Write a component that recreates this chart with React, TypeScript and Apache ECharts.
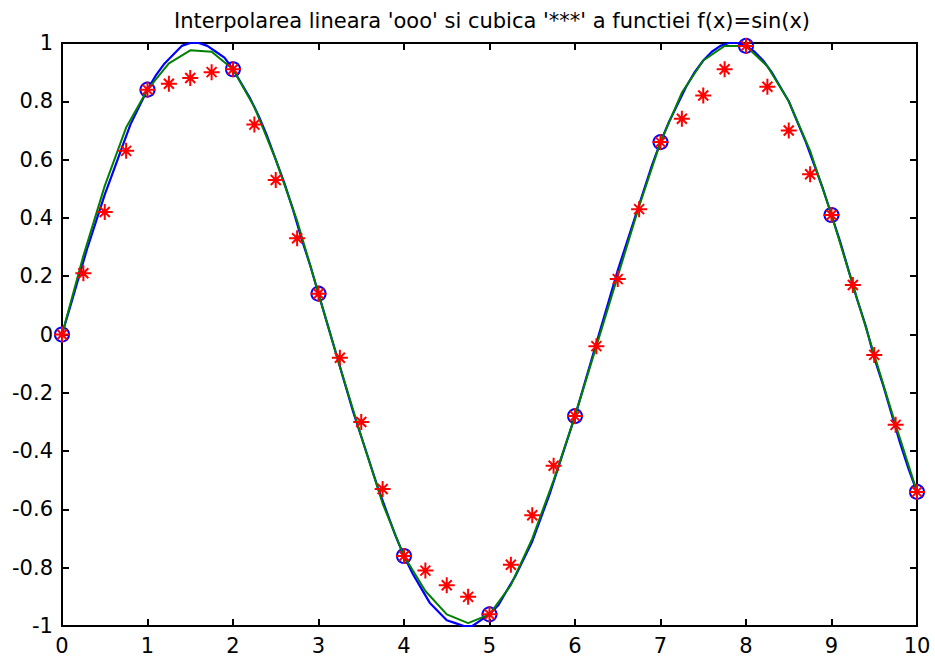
import React, { useEffect, useRef } from "react";
import * as echarts from "echarts";

const titleText = "Interpolarea lineara 'ooo' si cubica '***' a functiei f(x)=sin(x)";

// fine sampled sin(x), step 0.1 from 0 to 10
const fineStep = 0.1;
const fineY = [
  0.0, 0.1, 0.2, 0.3, 0.39, 0.48, 0.56, 0.64, 0.72, 0.78,
  0.84, 0.89, 0.93, 0.96, 0.99, 1.0, 1.0, 0.99, 0.97, 0.95,
  0.91, 0.86, 0.81, 0.75, 0.68, 0.6, 0.52, 0.43, 0.33, 0.24,
  0.14, 0.04, -0.06, -0.16, -0.26, -0.35, -0.44, -0.53, -0.61, -0.69,
  -0.76, -0.82, -0.87, -0.92, -0.95, -0.98, -0.99, -1.0, -1.0, -0.98,
  -0.96, -0.93, -0.88, -0.83, -0.77, -0.71, -0.63, -0.55, -0.46, -0.37,
  -0.28, -0.18, -0.08, 0.02, 0.12, 0.22, 0.31, 0.4, 0.49, 0.58,
  0.66, 0.73, 0.79, 0.85, 0.9, 0.94, 0.97, 0.99, 1.0, 1.0,
  0.99, 0.97, 0.94, 0.9, 0.85, 0.8, 0.73, 0.66, 0.58, 0.5,
  0.41, 0.32, 0.22, 0.12, 0.03, -0.08, -0.17, -0.27, -0.37, -0.46,
  -0.54,
];

// nodes (integer x)
const nodeX = [0, 1, 2, 3, 4, 5, 6, 7, 8, 9, 10];
const nodeY = [0, 0.84, 0.91, 0.14, -0.76, -0.96, -0.28, 0.66, 0.99, 0.41, -0.54];

// interpolated points, step 0.25
const interpStep = 0.25;
const linearY = [
  0, 0.21, 0.42, 0.63, 0.84, 0.86, 0.88, 0.9, 0.91,
  0.72, 0.53, 0.33, 0.14, -0.08, -0.3, -0.53, -0.76,
  -0.81, -0.86, -0.9, -0.96, -0.79, -0.62, -0.45, -0.28,
  -0.04, 0.19, 0.43, 0.66, 0.74, 0.82, 0.91, 0.99,
  0.85, 0.7, 0.55, 0.41, 0.17, -0.07, -0.31, -0.54,
];
const cubicY = [
  0, 0.27, 0.51, 0.71, 0.84, 0.93, 0.975, 0.97, 0.91,
  0.78, 0.6, 0.39, 0.14, -0.11, -0.35, -0.58, -0.76,
  -0.88, -0.96, -0.99, -0.96, -0.86, -0.7, -0.5, -0.28,
  -0.04, 0.2, 0.44, 0.66, 0.83, 0.94, 0.99, 0.99,
  0.92, 0.8, 0.63, 0.41, 0.17, -0.07, -0.31, -0.54,
];

const xTicks = { min: 0, max: 10, interval: 1 };
const yTicks = { min: -1, max: 1, interval: 0.2 };

const STAR = "path://M0,-8L0,8M-8,0L8,0M-5,-5L5,5M-5,5L5,-5";
const FONT = "'DejaVu Sans', 'Liberation Sans', Arial, sans-serif";

export default function App() {
  const ref = useRef<HTMLDivElement>(null);
  useEffect(() => {
    if (!ref.current) return;
    const chart = echarts.init(ref.current, undefined, { renderer: "svg" });
    const fine = fineY.map((y, i) => [+(i * fineStep).toFixed(2), y]);
    const lin = linearY.map((y, i) => [i * interpStep, y]);
    const cub = cubicY.map((y, i) => [i * interpStep, y]);
    const nodes = nodeX.map((x, i) => [x, nodeY[i]]);
    const axisLine = { show: true, onZero: false, lineStyle: { color: "#000", width: 2 } };
    const tick = { show: true, inside: true, length: 7, lineStyle: { color: "#000", width: 2 } };
    const yLabelFmt = (v: number) => {
      const r = Math.round(v * 10) / 10;
      return r === 0 ? "0" : String(r);
    };
    chart.setOption({
      animation: false,
      backgroundColor: "#fff",
      title: {
        text: titleText,
        left: 487,
        textAlign: "center",
        top: 5,
        textStyle: { fontFamily: FONT, fontSize: 21, fontWeight: "normal", color: "#000" },
      },
      grid: { left: 62, right: 18, top: 43, bottom: 32, containLabel: false, outerBoundsMode: "none" },
      xAxis: [
        {
          type: "value", position: "bottom", ...xTicks,
          axisLine, axisTick: tick, splitLine: { show: false },
          axisLabel: { fontFamily: FONT, fontSize: 21, color: "#000", margin: 9 },
        },
        {
          type: "value", position: "top", ...xTicks,
          axisLine, axisTick: tick, splitLine: { show: false }, axisLabel: { show: false },
        },
      ],
      yAxis: [
        {
          type: "value", position: "left", ...yTicks,
          axisLine, axisTick: tick, splitLine: { show: false },
          axisLabel: { fontFamily: FONT, fontSize: 21, color: "#000", margin: 9, formatter: yLabelFmt },
        },
        {
          type: "value", position: "right", ...yTicks,
          axisLine, axisTick: tick, splitLine: { show: false }, axisLabel: { show: false },
        },
      ],
      series: [
        {
          type: "line", data: fine, showSymbol: false, symbol: "none",
          lineStyle: { color: "#0000ff", width: 2.2 }, z: 2,
        },
        {
          type: "scatter", data: nodes, symbol: "circle", symbolSize: 14,
          itemStyle: { color: "rgba(0,0,0,0)", borderColor: "#0000ff", borderWidth: 2, opacity: 1 }, z: 3,
        },
        {
          type: "line", data: cub, showSymbol: false, symbol: "none",
          lineStyle: { color: "#008000", width: 2 }, z: 4,
        },
        {
          type: "scatter", data: lin, symbol: STAR, symbolSize: 16,
          itemStyle: { color: "#ff0000", borderColor: "#ff0000", borderWidth: 2, opacity: 1 }, z: 5,
        },
      ],
    });
    return () => chart.dispose();
  }, []);
  return (
    <div
      ref={ref}
      style={{ position: "fixed", left: 0, top: 0, width: 935, height: 658, background: "#fff" }}
    />
  );
}
